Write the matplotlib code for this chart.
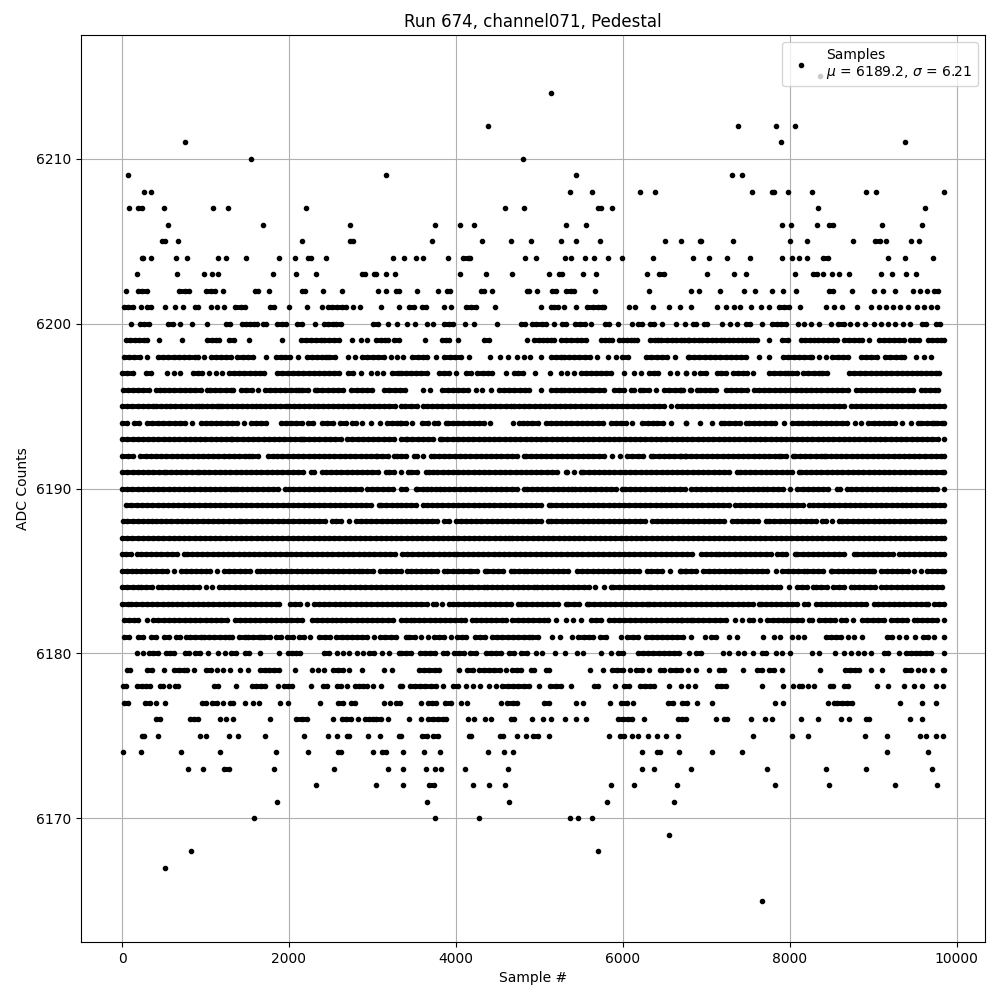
import matplotlib
matplotlib.use("Agg")
import matplotlib.pyplot as plt

# sample numbers per ADC level
s6215 = [8362]
s6214 = [5138]
s6212 = [4383, 7379, 7835, 8062]
s6211 = [752, 7895, 9380]
s6210 = [1543, 4803]
s6209 = [70, 3161, 5438, 7307, 7427]
s6208 = [261, 345, 5366, 5629, 6205, 6384, 7547, 7787, 7811, 7978, 8266, 8913, 9033, 9848]
s6207 = [81, 189, 237, 501, 1088, 1268, 2202, 4587, 4815, 5701, 5733, 5869, 8338, 9620]
s6206 = [549, 1687, 2730, 3748, 4048, 4216, 5318, 5558, 7907, 8014, 8326, 8470, 8514, 9105, 9584]
s6205 = [477, 509, 669, 2154, 2730, 2765, 3712, 4312, 4659, 4899, 5258, 5438, 5725, 6504, 6696, 6924,
         6940, 7319, 8002, 8206, 8757, 9021, 9081, 9153, 9452, 9548]
s6204 = [237, 253, 345, 645, 776, 1148, 1244, 1483, 1879, 2070, 2226, 2266, 2442, 3245, 3377, 3521, 3605,
         3904, 4084, 4144, 4168, 4827, 4959, 5306, 5378, 5546, 5654, 5821, 5989, 6360, 6840, 7032, 7247,
         7523, 7907, 8026, 8110, 8206, 8398, 8458, 9177, 9380, 9716]
s6203 = [177, 657, 980, 1076, 1148, 1807, 2083, 2322, 2873, 2905, 3017, 3041, 3161, 3269, 4048, 4359, 4671,
         5114, 5234, 5270, 5522, 5677, 6289, 6432, 6492, 7008, 7331, 7475, 8062, 8278, 8326, 8398, 8506,
         8590, 8709, 9093, 9225, 9392, 9512]
s6202 = [46, 189, 237, 297, 681, 752, 800, 1004, 1064, 1112, 1208, 1591, 1627, 1759, 2154, 2186, 2406, 2634,
         3065, 3161, 3281, 3317, 3533, 3784, 3892, 3928, 4300, 4335, 4431, 4851, 4875, 4971, 5150, 5198,
         5318, 5378, 5414, 5665, 6313, 6816, 6912, 7164, 7451, 7583, 7787, 7919, 8074, 8470, 8518, 8745,
         9009, 9117, 9261, 9476, 9560, 9644, 9728, 9776]
s6201 = [22, 70, 129, 225, 297, 349, 513, 633, 729, 872, 908, 1064, 1136, 1220, 1352, 1423, 1467, 1771, 1819,
         1999, 2214, 2394, 2466, 2514, 2574, 2634, 2682, 2765, 2849, 3101, 3317, 3437, 3497, 3593, 3641,
         3856, 3940, 4120, 4180, 4240, 4467, 5018, 5138, 5174, 5222, 5294, 5438, 5570, 5641, 5701, 5749,
         5773, 6073, 6145, 6360, 6552, 6684, 6816, 7128, 7236, 7331, 7403, 7535, 7655, 7751, 7871, 7931,
         7990, 8122, 8434, 8530, 8625, 8805, 8973, 9069, 9153, 9237, 9320, 9416, 9524, 9608, 9692, 9764]
s6200 = [109, 213, 261, 321, 549, 609, 693, 836, 1016, 1244, 1292, 1435, 1483, 1531, 1579, 1615, 1687, 1723,
         1855, 1915, 1963, 2094, 2154, 2310, 2418, 2466, 2526, 2562, 2622, 3005, 3065, 3185, 3293, 3413,
         3509, 3652, 3724, 3856, 3916, 3964, 4108, 4216, 4491, 4779, 4827, 4911, 4959, 5030, 5078, 5174,
         5270, 5318, 5426, 5486, 5546, 5618, 5785, 5833, 5941, 6109, 6181, 6229, 6325, 6373, 6468, 6636,
         6744, 6840, 6876, 6972, 7008, 7188, 7283, 7367, 7475, 7523, 7667, 7787, 7846, 7894, 7954, 8098,
         8170, 8254, 8350, 8494, 8578, 8649, 8721, 8805, 8901, 9009, 9093, 9177, 9261, 9356, 9440, 9584,
         9632, 9752, 9800]
s6199 = [42, 95, 150, 205, 260, 300, 441, 717, 1020, 1075, 1125, 1164, 1280, 1340, 1515, 1915, 2147, 2205,
         2262, 2320, 2378, 2418, 2478, 2538, 2594, 2758, 2858, 2938, 3041, 3097, 3150, 3185, 3257, 3320,
         3625, 3836, 3880, 3916, 4024, 4335, 4395, 4851, 4935, 4990, 5046, 5094, 5135, 5174, 5254, 5314,
         5382, 5446, 5500, 5554, 5733, 5790, 5835, 5873, 5953, 6000, 6050, 6095, 6133, 6173, 6325, 6380,
         6425, 6460, 6524, 6592, 6632, 6700, 6733, 6780, 6793, 6850, 6913, 6953, 7010, 7065, 7120, 7172,
         7212, 7270, 7325, 7380, 7432, 7472, 7520, 7565, 7612, 7751, 7911, 7979, 8131, 8185, 8240, 8291,
         8338, 8402, 8460, 8515, 8570, 8650, 8710, 8770, 8830, 8870, 8950, 9069, 9130, 9190, 9250, 9310,
         9369, 9441, 9495, 9549, 9657, 9710, 9765, 9810, 9848]
s6198 = [22, 82, 145, 213, 301, 433, 495, 555, 620, 680, 745, 805, 870, 908, 980, 1060, 1120, 1185, 1240, 1308,
         1380, 1445, 1510, 1571, 1723, 1839, 1899, 1955, 2011, 2110, 2218, 2275, 2330, 2390, 2438, 2478,
         2546, 2706, 2790, 2878, 2940, 3005, 3070, 3137, 3217, 3297, 3369, 3477, 3545, 3609, 3657, 3756,
         3856, 3925, 3995, 4064, 4156, 4403, 4527, 4623, 4727, 4815, 4887, 5018, 5134, 5195, 5254, 5294,
         5355, 5420, 5480, 5545, 5610, 5693, 5821, 5913, 5990, 6061, 6273, 6340, 6405, 6470, 6532, 6620,
         6780, 6793, 6853, 6915, 6980, 7045, 7105, 7170, 7232, 7292, 7360, 7420, 7472, 7632, 7751, 7923,
         7985, 8050, 8115, 8175, 8240, 8271, 8351, 8431, 8510, 8575, 8640, 8698, 8850, 8915, 8980, 9049,
         9137, 9205, 9270, 9330, 9369, 9513, 9609, 9689]
s6197 = [0, 62, 130, 281, 341, 533, 621, 693, 853, 905, 960, 1040, 1120, 1200, 1280, 1340, 1405, 1465, 1530,
         1590, 1650, 1699, 1859, 1920, 1985, 2045, 2110, 2170, 2235, 2295, 2360, 2420, 2485, 2545, 2598,
         2706, 2770, 2858, 2977, 3057, 3129, 3237, 3305, 3337, 3400, 3460, 3517, 3585, 3649, 3796, 3856,
         3916, 3996, 4116, 4184, 4256, 4320, 4385, 4435, 4599, 4695, 4750, 4807, 4947, 5126, 5254, 5335,
         5414, 5494, 5555, 5615, 5680, 5740, 5793, 5857, 6009, 6133, 6221, 6313, 6375, 6420, 6564, 6652,
         6756, 6757, 6853, 6925, 6993, 7132, 7172, 7236, 7324, 7385, 7444, 7492, 7564, 7751, 7815, 7880,
         7940, 7979, 8031, 8091, 8163, 8225, 8290, 8350, 8391, 8450, 8710, 8775, 8840, 8905, 8970, 9029,
         9090, 9155, 9215, 9280, 9340, 9405, 9465, 9530, 9569, 9629, 9690, 9750, 9788]
s6196 = [14, 70, 130, 195, 255, 320, 401, 449, 501, 565, 625, 690, 750, 815, 875, 940, 1020, 1052, 1115, 1175,
         1240, 1300, 1332, 1428, 1490, 1555, 1627, 1707, 1770, 1830, 1895, 1955, 2020, 2080, 2118, 2158,
         2225, 2306, 2338, 2400, 2465, 2525, 2590, 2650, 2746, 2810, 2870, 2935, 2997, 3137, 3200, 3265,
         3329, 3393, 3601, 3688, 3836, 3900, 3960, 4025, 4085, 4150, 4236, 4316, 4415, 4511, 4575, 4640,
         4700, 4765, 4825, 4875, 5022, 5134, 5195, 5254, 5294, 5355, 5420, 5480, 5545, 5614, 5645, 5710,
         5773, 5893, 5955, 6020, 6093, 6133, 6205, 6245, 6310, 6392, 6492, 6552, 6620, 6680, 6724, 6804,
         6693, 6813, 6885, 6925, 6990, 7050, 7112, 7232, 7295, 7360, 7420, 7485, 7572, 7632, 7692, 7755,
         7820, 7880, 7945, 8005, 8070, 8130, 8195, 8255, 8320, 8380, 8445, 8505, 8570, 8630, 8695, 8790,
         8850, 8915, 8975, 9040, 9100, 9165, 9225, 9290, 9350, 9415, 9475, 9577, 9617, 9680, 9740, 9777]
s6195 = [0, 60, 122, 185, 245, 308, 370, 401, 461, 521, 580, 640, 702, 765, 825, 885, 920, 960, 1020, 1080, 1135,
         1160, 1200, 1260, 1320, 1380, 1440, 1500, 1560, 1599, 1651, 1710, 1770, 1830, 1890, 1959, 1999,
         2060, 2120, 2180, 2240, 2300, 2346, 2402, 2465, 2525, 2590, 2650, 2710, 2770, 2835, 2895, 2955,
         3015, 3080, 3140, 3200, 3265, 3337, 3395, 3460, 3529, 3601, 3649, 3710, 3775, 3835, 3900, 3960,
         4025, 4085, 4150, 4210, 4275, 4336, 4407, 4470, 4530, 4595, 4655, 4695, 4755, 4820, 4880, 4945,
         5005, 5065, 5114, 5182, 5245, 5305, 5370, 5430, 5495, 5555, 5620, 5680, 5745, 5805, 5870, 5930,
         5995, 6055, 6120, 6180, 6245, 6305, 6370, 6430, 6495, 6572, 6652, 6715, 6775, 6835, 6900, 6960,
         7025, 7085, 7150, 7210, 7275, 7335, 7400, 7460, 7525, 7585, 7650, 7710, 7775, 7835, 7900, 7960,
         8025, 8085, 8150, 8210, 8275, 8335, 8400, 8460, 8525, 8585, 8650, 8730, 8790, 8850, 8915, 8975,
         9040, 9100, 9165, 9225, 9290, 9350, 9415, 9475, 9540, 9600, 9665, 9725, 9790, 9848]
s6194 = [0, 60, 142, 201, 293, 360, 425, 490, 561, 629, 690, 755, 833, 940, 1005, 1065, 1130, 1190, 1255, 1315,
         1380, 1460, 1539, 1600, 1660, 1719, 1899, 1960, 2025, 2085, 2150, 2225, 2286, 2398, 2460, 2525,
         2610, 2678, 2758, 2806, 2878, 2977, 3089, 3169, 3230, 3295, 3329, 3337, 3405, 3477, 3597, 3665,
         3737, 3784, 3876, 3904, 3965, 4030, 4090, 4155, 4215, 4276, 4335, 4407, 4683, 4755, 4805, 4855,
         4915, 4983, 5074, 5135, 5200, 5260, 5325, 5385, 5450, 5510, 5575, 5635, 5700, 5760, 5853, 5913,
         5975, 6040, 6113, 6233, 6300, 6360, 6413, 6480, 6580, 6752, 6753, 6921, 7072, 7172, 7212, 7275,
         7340, 7400, 7472, 7512, 7572, 7635, 7700, 7771, 7819, 7931, 8031, 8099, 8151, 8215, 8275, 8311,
         8371, 8435, 8495, 8560, 8630, 8690, 8778, 8854, 8938, 9009, 9070, 9135, 9195, 9260, 9349, 9449,
         9537, 9577, 9640, 9700, 9729, 9769, 9830, 9848]
s6193 = [0, 62, 125, 185, 248, 310, 372, 435, 498, 560, 622, 685, 748, 810, 872, 935, 998, 1060, 1122, 1185,
         1248, 1300, 1320, 1382, 1445, 1508, 1570, 1632, 1695, 1758, 1820, 1882, 1945, 2008, 2070, 2132,
         2158, 2178, 2240, 2302, 2365, 2428, 2490, 2552, 2618, 2698, 2760, 2822, 2885, 2948, 3010, 3072,
         3135, 3198, 3260, 3337, 3397, 3417, 3480, 3542, 3605, 3668, 3730, 3808, 3836, 3898, 3960, 4022,
         4085, 4148, 4210, 4272, 4335, 4398, 4460, 4522, 4585, 4648, 4710, 4772, 4835, 4898, 4960, 5022,
         5085, 5148, 5210, 5272, 5335, 5398, 5460, 5522, 5585, 5648, 5710, 5772, 5835, 5898, 5960, 6022,
         6085, 6148, 6210, 6272, 6335, 6398, 6460, 6522, 6585, 6648, 6710, 6772, 6835, 6898, 6960, 7022,
         7085, 7148, 7210, 7272, 7335, 7398, 7460, 7522, 7585, 7648, 7710, 7772, 7835, 7898, 7960, 8022,
         8085, 8148, 8210, 8272, 8335, 8398, 8460, 8522, 8585, 8648, 8710, 8772, 8835, 8898, 8960, 9022,
         9085, 9148, 9210, 9272, 9335, 9398, 9460, 9522, 9585, 9648, 9710, 9772, 9848]
s6192 = [2, 65, 130, 213, 281, 345, 405, 470, 530, 595, 655, 720, 780, 845, 905, 970, 1030, 1095, 1155, 1220,
         1280, 1345, 1405, 1470, 1519, 1559, 1627, 1747, 1811, 1859, 1920, 1985, 2045, 2110, 2170, 2235,
         2295, 2360, 2420, 2485, 2545, 2610, 2670, 2735, 2795, 2860, 2920, 2985, 3037, 3057, 3120, 3185,
         3257, 3297, 3337, 3400, 3497, 3529, 3610, 3697, 3737, 3796, 3860, 3920, 3985, 4045, 4110, 4170,
         4235, 4295, 4360, 4420, 4485, 4545, 4610, 4670, 4735, 4815, 4835, 4895, 4960, 5020, 5085, 5145,
         5210, 5270, 5335, 5395, 5460, 5520, 5585, 5645, 5710, 5770, 5873, 5965, 6053, 6115, 6180, 6240,
         6333, 6365, 6430, 6490, 6555, 6615, 6680, 6740, 6812, 6693, 6755, 6880, 6945, 7005, 7070, 7130,
         7195, 7255, 7320, 7380, 7445, 7505, 7570, 7630, 7695, 7755, 7820, 7871, 7891, 7955, 8043, 8059,
         8120, 8185, 8245, 8310, 8370, 8411, 8431, 8495, 8555, 8620, 8680, 8745, 8805, 8870, 8930, 8995,
         9055, 9120, 9180, 9245, 9305, 9370, 9430, 9495, 9555, 9620, 9689, 9749, 9810, 9848]
s6191 = [0, 60, 125, 185, 250, 310, 375, 440, 501, 521, 585, 645, 710, 770, 835, 900, 920, 985, 1045, 1110,
         1170, 1235, 1295, 1360, 1420, 1485, 1545, 1610, 1670, 1735, 1795, 1860, 1920, 1985, 2045, 2110,
         2170, 2258, 2298, 2398, 2438, 2500, 2565, 2625, 2690, 2750, 2815, 2875, 2940, 3000, 3065, 3157,
         3197, 3260, 3337, 3425, 3465, 3529, 3637, 3677, 3728, 3776, 3840, 3900, 3965, 4025, 4090, 4150,
         4215, 4275, 4340, 4400, 4465, 4525, 4590, 4650, 4715, 4775, 4840, 4900, 4965, 5025, 5090, 5150,
         5215, 5314, 5334, 5415, 5494, 5526, 5590, 5650, 5715, 5775, 5840, 5900, 5965, 6025, 6090, 6150,
         6215, 6275, 6340, 6400, 6465, 6525, 6590, 6650, 6715, 6775, 6840, 6900, 6965, 7025, 7090, 7150,
         7215, 7275, 7364, 7404, 7465, 7530, 7590, 7655, 7715, 7780, 7840, 7905, 7965, 8030, 8111, 8131,
         8195, 8255, 8320, 8380, 8445, 8505, 8570, 8630, 8695, 8755, 8820, 8880, 8945, 9005, 9070, 9130,
         9195, 9255, 9320, 9380, 9445, 9505, 9570, 9630, 9695, 9755, 9820, 9848]
s6190 = [0, 62, 122, 185, 247, 310, 370, 433, 495, 558, 618, 681, 743, 806, 866, 929, 991, 1054, 1114, 1177,
         1239, 1302, 1340, 1372, 1435, 1497, 1560, 1620, 1683, 1745, 1808, 1870, 1947, 1999, 2051, 2115,
         2177, 2240, 2300, 2363, 2425, 2488, 2548, 2611, 2673, 2736, 2796, 2859, 2937, 2997, 3060, 3122,
         3185, 3245, 3337, 3400, 3517, 3537, 3600, 3657, 3697, 3760, 3808, 3856, 3920, 3980, 4045, 4105,
         4170, 4230, 4295, 4355, 4420, 4480, 4545, 4605, 4670, 4730, 4815, 4847, 4910, 4970, 5035, 5095,
         5160, 5220, 5285, 5345, 5394, 5422, 5485, 5545, 5610, 5670, 5735, 5795, 5860, 5920, 5993, 6021,
         6085, 6145, 6210, 6270, 6335, 6395, 6452, 6492, 6555, 6615, 6680, 6740, 6812, 6875, 6935, 7000,
         7060, 7125, 7185, 7250, 7310, 7375, 7435, 7500, 7560, 7625, 7684, 7731, 7795, 7855, 7920, 8003,
         8091, 8155, 8215, 8280, 8340, 8405, 8465, 8570, 8602, 8690, 8738, 8800, 8865, 8925, 8990, 9050,
         9115, 9175, 9229, 9269, 9330, 9395, 9455, 9520, 9580, 9645, 9705, 9770, 9848]
s6189 = [50, 112, 175, 238, 300, 362, 425, 488, 550, 612, 675, 738, 800, 862, 925, 988, 1050, 1112, 1175, 1238,
         1300, 1362, 1425, 1488, 1550, 1612, 1675, 1738, 1800, 1862, 1925, 1988, 2050, 2112, 2175, 2238,
         2300, 2362, 2425, 2488, 2550, 2612, 2675, 2738, 2800, 2862, 2925, 2988, 3077, 3105, 3168, 3230,
         3292, 3337, 3400, 3462, 3525, 3609, 3649, 3712, 3775, 3838, 3900, 3962, 4025, 4088, 4150, 4212,
         4275, 4338, 4400, 4462, 4525, 4588, 4650, 4712, 4775, 4838, 4900, 4962, 5025, 5114, 5142, 5205,
         5268, 5330, 5392, 5455, 5518, 5580, 5642, 5705, 5768, 5830, 5892, 5955, 6018, 6080, 6142, 6205,
         6268, 6330, 6392, 6455, 6518, 6580, 6642, 6705, 6768, 6830, 6892, 6955, 7018, 7080, 7142, 7205,
         7268, 7344, 7405, 7468, 7530, 7592, 7655, 7718, 7780, 7842, 7905, 7968, 8030, 8092, 8155, 8231,
         8283, 8345, 8408, 8470, 8532, 8595, 8658, 8720, 8782, 8845, 8908, 8970, 9032, 9095, 9158, 9220,
         9282, 9349, 9393, 9455, 9518, 9580, 9642, 9709, 9737, 9800, 9848]
s6188 = [10, 62, 125, 188, 250, 312, 361, 401, 465, 528, 590, 652, 715, 778, 840, 902, 965, 1028, 1090, 1152,
         1215, 1278, 1340, 1400, 1428, 1490, 1552, 1615, 1678, 1740, 1802, 1865, 1928, 1990, 2052, 2115,
         2178, 2240, 2302, 2365, 2428, 2518, 2558, 2620, 2718, 2798, 2860, 2922, 2985, 3048, 3110, 3172,
         3235, 3298, 3337, 3400, 3462, 3525, 3588, 3650, 3712, 3775, 3856, 3916, 3996, 4056, 4118, 4180,
         4243, 4305, 4368, 4430, 4492, 4555, 4618, 4680, 4742, 4805, 4863, 4895, 4958, 5020, 5102, 5142,
         5205, 5268, 5330, 5392, 5455, 5518, 5580, 5642, 5705, 5768, 5830, 5892, 5955, 6018, 6080, 6142,
         6205, 6268, 6352, 6405, 6468, 6530, 6592, 6655, 6718, 6780, 6842, 6905, 6968, 7030, 7092, 7155,
         7218, 7312, 7372, 7432, 7495, 7558, 7620, 7711, 7751, 7815, 7878, 7940, 8002, 8065, 8128, 8190,
         8252, 8315, 8391, 8431, 8510, 8590, 8630, 8692, 8755, 8818, 8880, 8942, 9005, 9068, 9130, 9192,
         9255, 9318, 9380, 9442, 9505, 9568, 9630, 9692, 9755, 9818, 9848]
s6187 = [0, 62, 124, 186, 248, 310, 372, 434, 496, 558, 620, 682, 744, 806, 868, 930, 992, 1054, 1116, 1178,
         1240, 1302, 1364, 1426, 1488, 1550, 1612, 1674, 1736, 1798, 1860, 1922, 1984, 2046, 2108, 2170,
         2232, 2294, 2356, 2418, 2480, 2542, 2604, 2666, 2728, 2790, 2852, 2914, 2976, 3038, 3100, 3162,
         3224, 3286, 3348, 3410, 3472, 3534, 3596, 3658, 3720, 3782, 3844, 3906, 3968, 4030, 4092, 4154,
         4216, 4278, 4340, 4402, 4464, 4526, 4588, 4640, 4672, 4734, 4796, 4858, 4920, 4982, 5044, 5106,
         5168, 5230, 5292, 5354, 5416, 5478, 5540, 5602, 5664, 5726, 5788, 5850, 5912, 5974, 6036, 6098,
         6160, 6222, 6284, 6346, 6408, 6470, 6532, 6594, 6656, 6718, 6780, 6842, 6904, 6966, 7028, 7090,
         7152, 7214, 7276, 7338, 7400, 7462, 7524, 7586, 7648, 7710, 7772, 7834, 7896, 7958, 8020, 8082,
         8144, 8206, 8268, 8330, 8392, 8454, 8516, 8578, 8640, 8702, 8764, 8826, 8888, 8950, 9012, 9074,
         9136, 9198, 9260, 9322, 9384, 9446, 9508, 9570, 9632, 9694, 9756, 9818, 9848]
s6186 = [0, 42, 102, 174, 221, 285, 345, 410, 470, 535, 595, 660, 741, 773, 835, 895, 960, 1020, 1085, 1145,
         1210, 1270, 1335, 1395, 1460, 1520, 1585, 1645, 1710, 1770, 1835, 1895, 1960, 2020, 2085, 2145,
         2210, 2270, 2335, 2395, 2460, 2520, 2585, 2645, 2710, 2770, 2835, 2895, 2960, 3020, 3085, 3145,
         3210, 3270, 3357, 3420, 3480, 3545, 3605, 3670, 3730, 3795, 3855, 3920, 3976, 4016, 4080, 4140,
         4205, 4265, 4330, 4390, 4455, 4515, 4580, 4640, 4705, 4765, 4830, 4890, 4955, 5015, 5080, 5140,
         5205, 5265, 5330, 5390, 5455, 5515, 5580, 5640, 5705, 5765, 5830, 5890, 5955, 6015, 6080, 6140,
         6205, 6265, 6330, 6390, 6455, 6515, 6580, 6640, 6705, 6765, 6833, 6933, 6995, 7055, 7112, 7152,
         7215, 7275, 7340, 7400, 7465, 7525, 7590, 7650, 7715, 7771, 7843, 7911, 7951, 8059, 8091, 8155,
         8215, 8280, 8340, 8405, 8465, 8530, 8590, 8655, 8770, 8810, 8875, 8935, 9002, 9049, 9110, 9175,
         9235, 9309, 9369, 9430, 9495, 9555, 9620, 9680, 9745, 9805, 9848]
s6185 = [0, 60, 122, 161, 225, 285, 350, 410, 475, 535, 621, 701, 765, 825, 890, 950, 1000, 1052, 1140, 1220,
         1285, 1345, 1410, 1470, 1535, 1619, 1651, 1715, 1775, 1840, 1900, 1965, 2025, 2090, 2150, 2215,
         2275, 2340, 2400, 2465, 2525, 2590, 2650, 2715, 2775, 2838, 2878, 2940, 3005, 3089, 3157, 3220,
         3285, 3337, 3417, 3457, 3520, 3580, 3645, 3705, 3770, 3856, 3896, 3960, 4025, 4085, 4156, 4184,
         4250, 4344, 4375, 4440, 4500, 4565, 4663, 4695, 4755, 4815, 4847, 4910, 4970, 5035, 5095, 5160,
         5220, 5285, 5345, 5454, 5514, 5575, 5640, 5700, 5765, 5825, 5890, 5950, 6015, 6075, 6140, 6200,
         6293, 6341, 6405, 6465, 6564, 6684, 6750, 6812, 6693, 6755, 6880, 6965, 7032, 7095, 7155, 7220,
         7280, 7345, 7392, 7420, 7480, 7545, 7605, 7670, 7730, 7831, 7911, 7975, 8035, 8100, 8171, 8211,
         8275, 8335, 8400, 8490, 8510, 8575, 8635, 8700, 8760, 8825, 8885, 8950, 8990, 9010, 9097, 9161,
         9225, 9290, 9350, 9417, 9489, 9570, 9649, 9709, 9769, 9830, 9848]
s6184 = [0, 62, 125, 189, 229, 290, 355, 433, 481, 545, 605, 670, 730, 795, 855, 920, 1000, 1080, 1160, 1225,
         1285, 1350, 1410, 1475, 1539, 1603, 1667, 1730, 1790, 1855, 1915, 1980, 2040, 2105, 2165, 2230,
         2290, 2355, 2415, 2480, 2540, 2605, 2665, 2730, 2790, 2855, 2915, 2980, 3040, 3105, 3165, 3230,
         3290, 3337, 3400, 3460, 3525, 3585, 3650, 3710, 3775, 3835, 3900, 3960, 4025, 4085, 4156, 4196,
         4265, 4336, 4367, 4430, 4490, 4555, 4615, 4680, 4740, 4805, 4865, 4935, 4967, 5030, 5090, 5155,
         5215, 5280, 5340, 5405, 5465, 5530, 5590, 5665, 5773, 5853, 5885, 5950, 6010, 6075, 6135, 6200,
         6260, 6313, 6341, 6405, 6465, 6530, 6590, 6655, 6715, 6780, 6812, 6875, 6940, 7000, 7065, 7112,
         7164, 7232, 7292, 7355, 7415, 7480, 7540, 7605, 7665, 7730, 7790, 7851, 7879, 7991, 8083, 8145,
         8210, 8283, 8311, 8380, 8450, 8522, 8590, 8655, 8730, 8770, 8835, 8895, 8960, 9020, 9097, 9153,
         9215, 9280, 9340, 9405, 9465, 9530, 9589, 9641, 9705, 9765, 9828]
s6183 = [0, 70, 110, 170, 235, 295, 360, 420, 485, 545, 601, 653, 721, 785, 845, 910, 970, 1035, 1095, 1160,
         1220, 1285, 1345, 1410, 1470, 1535, 1595, 1660, 1720, 1785, 1845, 1879, 2007, 2070, 2135, 2218,
         2298, 2360, 2425, 2485, 2550, 2610, 2675, 2735, 2800, 2860, 2925, 2985, 3050, 3110, 3175, 3235,
         3300, 3337, 3400, 3460, 3525, 3585, 3650, 3728, 3756, 3830, 3916, 3968, 4030, 4095, 4155, 4220,
         4280, 4345, 4405, 4470, 4530, 4595, 4655, 4743, 4783, 4845, 4910, 4970, 5035, 5095, 5160, 5220,
         5314, 5346, 5410, 5470, 5566, 5598, 5660, 5725, 5785, 5850, 5910, 5975, 6035, 6100, 6160, 6225,
         6293, 6313, 6375, 6440, 6500, 6565, 6625, 6690, 6750, 6812, 6875, 6935, 7000, 7060, 7125, 7185,
         7250, 7310, 7375, 7435, 7500, 7560, 7632, 7652, 7715, 7775, 7840, 7900, 7965, 8025, 8090, 8171,
         8219, 8311, 8375, 8435, 8498, 8538, 8600, 8665, 8725, 8790, 8850, 8915, 9009, 9057, 9120, 9185,
         9245, 9310, 9370, 9441, 9509, 9570, 9629, 9657, 9729, 9788, 9848]
s6182 = [22, 85, 145, 189, 293, 373, 435, 500, 560, 625, 685, 750, 810, 875, 935, 1000, 1060, 1120, 1190, 1260,
         1348, 1410, 1472, 1531, 1595, 1655, 1720, 1780, 1845, 1905, 1970, 2030, 2095, 2158, 2270, 2335,
         2395, 2460, 2518, 2558, 2620, 2685, 2745, 2810, 2870, 2935, 2995, 3060, 3120, 3185, 3245, 3337,
         3400, 3457, 3497, 3560, 3620, 3685, 3745, 3810, 3870, 3935, 3995, 4064, 4104, 4196, 4236, 4300,
         4360, 4425, 4485, 4550, 4595, 4675, 4740, 4800, 4865, 4925, 4990, 5054, 5102, 5194, 5314, 5400,
         5494, 5621, 5680, 5733, 5833, 5895, 5960, 6020, 6085, 6145, 6213, 6273, 6335, 6400, 6460, 6525,
         6585, 6650, 6710, 6812, 6693, 6770, 6840, 6905, 6965, 7032, 7100, 7165, 7232, 7340, 7425, 7512,
         7564, 7644, 7731, 7795, 7855, 7920, 7971, 8019, 8085, 8150, 8231, 8271, 8351, 8418, 8480, 8545,
         8618, 8678, 8762, 8870, 8930, 8995, 9060, 9129, 9217, 9280, 9345, 9405, 9489, 9521, 9585, 9645,
         9710, 9770, 9848]
s6181 = [22, 82, 190, 250, 342, 405, 502, 562, 642, 694, 766, 814, 874, 942, 982, 1045, 1105, 1170, 1230, 1282,
         1322, 1402, 1470, 1510, 1570, 1635, 1670, 1702, 1770, 1842, 1910, 1982, 2050, 2122, 2182, 2254,
         2362, 2430, 2494, 2566, 2630, 2690, 2755, 2815, 2880, 2940, 3022, 3094, 3155, 3220, 3282, 3397,
         3437, 3505, 3585, 3665, 3737, 3797, 3857, 3937, 4009, 4070, 4125, 4225, 4290, 4350, 4437, 4497,
         4557, 4625, 4690, 4750, 4815, 4877, 4917, 4985, 5153, 5249, 5393, 5469, 5537, 5600, 5637, 5729,
         5797, 5977, 6049, 6117, 6185, 6281, 6345, 6405, 6470, 6530, 6595, 6655, 6720, 6817, 6980, 7060,
         7112, 7272, 7364, 7680, 7812, 7884, 8028, 8100, 8172, 8432, 8495, 8560, 8620, 8700, 8772, 8864,
         9164, 9230, 9312, 9392, 9500, 9592, 9660, 9732, 9848]
s6180 = [177, 249, 321, 369, 429, 525, 573, 621, 752, 800, 872, 932, 1028, 1148, 1232, 1304, 1363, 1471, 1519,
         1651, 1879, 1987, 2034, 2083, 2130, 2418, 2478, 2574, 2646, 2718, 2813, 2885, 2957, 3017, 3113,
         3197, 3317, 3337, 3400, 3465, 3569, 3625, 3690, 3750, 3849, 3897, 3977, 4040, 4097, 4169, 4237,
         4357, 4420, 4485, 4545, 4637, 4697, 4785, 4849, 4961, 5033, 5185, 5309, 5449, 5525, 5741, 5857,
         5945, 6005, 6177, 6240, 6305, 6365, 6430, 6490, 6555, 6615, 6677, 6797, 6877, 6932, 7196, 7272,
         7380, 7452, 7560, 7668, 7716, 7836, 7908, 8004, 8268, 8348, 8544, 8652, 8732, 8820, 8892, 8976,
         9132, 9180, 9312, 9396, 9455, 9512, 9564, 9630, 9692, 9848]
s6179 = [58, 93, 297, 357, 501, 621, 681, 741, 772, 860, 1004, 1064, 1136, 1208, 1292, 1411, 1507, 1651, 1711,
         1759, 1819, 1879, 2070, 2274, 2346, 2418, 2526, 2586, 2646, 2718, 2873, 3137, 3233, 3557, 3620,
         3680, 3745, 3797, 4037, 4137, 4205, 4277, 4337, 4397, 4457, 4525, 4597, 4677, 4735, 4785, 4897,
         4937, 5077, 5117, 5609, 5757, 5865, 5930, 5997, 6089, 6161, 6225, 6317, 6449, 6497, 6569, 6635,
         6695, 6785, 6881, 7032, 7152, 7212, 7440, 7604, 7672, 7752, 7815, 7912, 8364, 8660, 8720, 8785,
         8832, 8976, 9108, 9384, 9450, 9532, 9612, 9708, 9832, 9848]
s6178 = [8, 46, 177, 237, 285, 333, 453, 489, 561, 633, 669, 1100, 1148, 1363, 1555, 1603, 1663, 1711, 1867,
         1939, 1987, 2034, 2262, 2406, 2454, 2574, 2622, 2694, 2789, 2837, 2885, 2933, 3005, 3101, 3329,
         3349, 3449, 3510, 3575, 3635, 3700, 3760, 3849, 3965, 4030, 4117, 4205, 4289, 4397, 4480, 4557,
         4625, 4690, 4750, 4817, 4877, 4993, 5129, 5197, 5261, 5381, 5657, 5697, 5909, 6009, 6077, 6201,
         6265, 6325, 6377, 6557, 6701, 6785, 6869, 7124, 7180, 7232, 7668, 7920, 8040, 8112, 8144, 8220,
         8292, 8484, 8520, 8652, 8700, 9048, 9180, 9372, 9492, 9588, 9756, 9840]
s6177 = [22, 70, 273, 333, 405, 513, 956, 1004, 1076, 1136, 1208, 1292, 1328, 1471, 1567, 1639, 1891, 1987, 2370,
         2586, 2646, 2741, 2789, 3137, 3209, 3281, 3329, 3585, 3665, 3717, 3765, 3869, 3937, 4061, 4137,
         4541, 4617, 4680, 4737, 5057, 5117, 5441, 5525, 5849, 5977, 6045, 6117, 6537, 6597, 6713, 6773,
         6893, 7068, 7824, 7920, 8460, 8532, 8572, 8628, 8692, 8752, 9324, 9588, 9756]
s6176 = [405, 449, 812, 860, 908, 1172, 1244, 1328, 1771, 2083, 2154, 2214, 2526, 2634, 2682, 2741, 2825, 2909,
         2957, 3005, 3041, 3101, 3185, 3437, 3581, 3665, 3729, 3785, 3840, 3885, 4145, 4217, 4349, 4421,
         4657, 4697, 4913, 5045, 5141, 5309, 5441, 5561, 5945, 6000, 6057, 6113, 6257, 6665, 6715, 6761,
         7116, 7212, 7244, 7536, 7704, 7788, 8136, 8340, 8616, 8712, 8916, 8952, 9444, 9588]
s6175 = [237, 261, 429, 932, 1004, 1280, 1387, 1711, 2178, 2466, 2574, 2694, 2722, 2945, 3089, 3317, 3337, 3593,
         3649, 3725, 3785, 4157, 4185, 4529, 4565, 4733, 4841, 4925, 4985, 5117, 5837, 5969, 6017, 6113,
         6185, 6305, 6413, 6521, 6665, 7560, 8028, 8220, 8904, 9168, 9564, 9636, 9756, 9840]
s6174 = [10, 225, 705, 1172, 1843, 2226, 2586, 2622, 3005, 3113, 3161, 3365, 3617, 3809, 4385, 4577, 4685, 6233,
         6409, 6449, 6677, 7068, 7428, 9168, 9660]
s6173 = [788, 968, 1220, 1280, 1819, 2538, 3185, 3365, 3641, 3749, 3821, 4109, 4625, 6233, 6377, 6821, 7728,
         8436, 8916, 9708]
s6172 = [2322, 3041, 3365, 3677, 3737, 4205, 4397, 4589, 5861, 6137, 6653, 7824, 8472, 9264, 9768]
s6171 = [1855, 3653, 4637, 5813, 6617]
s6170 = [1579, 3749, 4277, 5369, 5465, 5633]
s6169 = [6557]
s6168 = [824, 5705]
s6167 = [513]
s6165 = [7668]

levels = [6215, 6214, 6212, 6211, 6210, 6209, 6208, 6207, 6206, 6205, 6204, 6203, 6202, 6201, 6200,
          6199, 6198, 6197, 6196, 6195, 6194, 6193, 6192, 6191, 6190, 6189, 6188, 6187, 6186, 6185,
          6184, 6183, 6182, 6181, 6180, 6179, 6178, 6177, 6176, 6175, 6174, 6173, 6172, 6171, 6170,
          6169, 6168, 6167, 6165]
samples = [s6215, s6214, s6212, s6211, s6210, s6209, s6208, s6207, s6206, s6205, s6204, s6203, s6202,
           s6201, s6200, s6199, s6198, s6197, s6196, s6195, s6194, s6193, s6192, s6191, s6190, s6189,
           s6188, s6187, s6186, s6185, s6184, s6183, s6182, s6181, s6180, s6179, s6178, s6177, s6176,
           s6175, s6174, s6173, s6172, s6171, s6170, s6169, s6168, s6167, s6165]

x = []
y = []
for level, row in zip(levels, samples):
    x.extend(row)
    y.extend([level] * len(row))

fig, ax = plt.subplots(figsize=(10, 10), dpi=100)
ax.plot(x, y, "k.", label="Samples\n$\\mu$ = 6189.2, $\\sigma$ = 6.21")

# runs of neighbouring samples merge into solid bars in the picture
for level, row in zip(levels, samples):
    row = sorted(row)
    for a, b in zip(row, row[1:]):
        if b - a < 72:
            ax.plot([a, b], [level, level], color="k", linewidth=3.5, solid_capstyle="butt")

ax.set_title("Run 674, channel071, Pedestal")
ax.set_xlabel("Sample #")
ax.set_ylabel("ADC Counts")
ax.grid(True)
ax.legend(loc="upper right")
fig.subplots_adjust(left=0.081, right=0.985, top=0.965, bottom=0.058)
plt.savefig("out.png")
